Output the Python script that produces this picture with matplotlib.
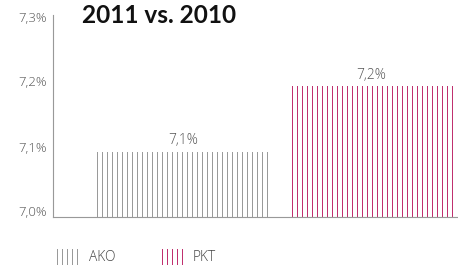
import matplotlib
matplotlib.use("Agg")
import matplotlib.pyplot as plt
from matplotlib.patches import Patch

categories = ["AKO", "PKT"]
values = [7.1, 7.2]
value_labels = ["7,1%", "7,2%"]
yticks = [7.0, 7.1, 7.2, 7.3]
ytick_labels = ["7,0%", "7,1%", "7,2%", "7,3%"]
title = "2011 vs. 2010"

colors = ["#9a9a9a", "#c0306f"]

DPI = 90
plt.rcParams["font.family"] = ["Open Sans", "DejaVu Sans"]
plt.rcParams["hatch.linewidth"] = 0.8

fig = plt.figure(figsize=(458 / DPI, 271 / DPI), dpi=DPI)
ax = fig.add_axes([52.7 / 458, 54.5 / 271, (458 - 52.7) / 458, (216.5 - 15) / 271])

widths = [0.936, 0.883]
x = list(range(len(categories)))
for i, (c, v) in enumerate(zip(categories, values)):
    ax.bar(x[i], v - 7.0, bottom=7.0, width=widths[i], color="none",
           edgecolor=colors[i], hatch="|||", linewidth=0, label=c)
    ax.annotate(value_labels[i], (x[i], v), xytext=(0, 6), textcoords="offset points",
                ha="center", va="baseline", fontsize=11, color="#555555",
                fontweight="light")

ax.set_xlim(-0.696, 1.46)
ax.set_ylim(7.0, 7.31)
ax.set_yticks(yticks)
ax.set_yticklabels(ytick_labels, fontweight="light")
for lab in ax.get_yticklabels():
    lab.set_va("baseline")
ax.tick_params(axis="y", length=0, pad=4.8, labelsize=10.5, labelcolor="#555555")
ax.set_xticks([])
for s in ["top", "right"]:
    ax.spines[s].set_visible(False)
for s in ["left", "bottom"]:
    ax.spines[s].set_color("#999999")
    ax.spines[s].set_linewidth(0.9)

fig.text(82 / 458, 1 - 23 / 271, title, fontsize=19.5, fontweight="bold",
         color="#111111", va="baseline", ha="left", family=["Lato", "DejaVu Sans"])

handles = [Patch(facecolor="none", edgecolor=colors[i], hatch="|||", linewidth=0,
                 label=categories[i]) for i in range(len(categories))]
leg = fig.legend(handles=handles, loc="lower left", bbox_to_anchor=(45 / 458, -0.025),
                 ncol=2, frameon=False, handlelength=1.7, handleheight=1.4,
                 columnspacing=3.3, handletextpad=0.6, labelcolor="#444444",
                 prop={"weight": "light", "size": 11})

fig.savefig("out.png", dpi=DPI)
